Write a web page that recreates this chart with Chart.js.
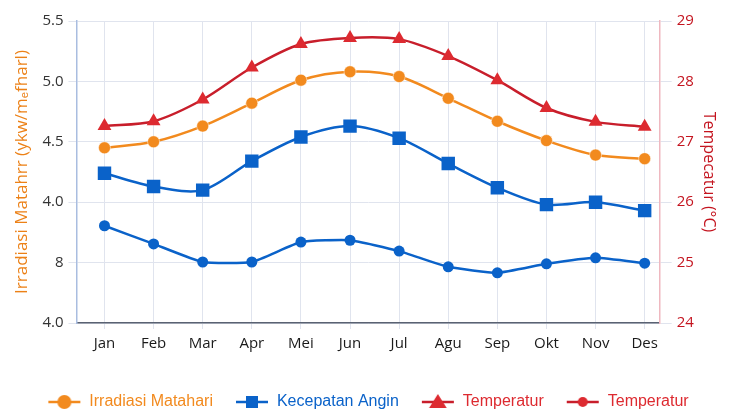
<!DOCTYPE html>
<html>
<head>
<meta charset="utf-8">
<script src="https://cdn.jsdelivr.net/npm/chart.js@4"></script>
<style>
  html, body { margin: 0; padding: 0; background: #fff; }
  #myChart { display: block; }
</style>
</head>
<body>
<canvas id="myChart" width="734" height="410"></canvas>
<script>
const months = ["Jan", "Feb", "Mar", "Apr", "Mei", "Jun", "Jul", "Agu", "Sep", "Okt", "Nov", "Des"];

// left axis (kWh/m2/hari)
const irradiasi = [4.45, 4.50, 4.63, 4.82, 5.01, 5.08, 5.04, 4.86, 4.67, 4.51, 4.39, 4.36];
const kecepatanAngin = [4.24, 4.13, 4.10, 4.34, 4.54, 4.63, 4.53, 4.32, 4.12, 3.98, 4.00, 3.93];

// right axis (°C)
const temperatur = [27.26, 27.34, 27.70, 28.23, 28.62, 28.72, 28.70, 28.42, 28.02, 27.56, 27.33, 27.25];
const temperatur2 = [25.61, 25.31, 25.01, 25.01, 25.34, 25.37, 25.19, 24.93, 24.83, 24.98, 25.08, 24.99];

// left tick labels as printed on the picture
const leftTickValues = [3.0, 3.5, 4.0, 4.5, 5.0, 5.5];
const leftTickLabels = ["4.0", "8", "4.0", "4.5", "5.0", "5.5"];

const ORANGE = "#f28a1e";
const BLUE = "#0a62c9";
const RED = "#dd2a30";
const REDLINE = "#c81e2b";

function legendGlyph(color, lineColor, style, r) {
  const c = document.createElement("canvas");
  c.width = 34;
  c.height = 18;
  const g = c.getContext("2d");
  g.strokeStyle = lineColor;
  g.lineWidth = 2.5;
  g.beginPath();
  g.moveTo(1, 9);
  g.lineTo(33, 9);
  g.stroke();
  g.fillStyle = color;
  g.beginPath();
  if (style === "circle") {
    g.arc(17, 9, r, 0, Math.PI * 2);
  } else if (style === "rect") {
    g.rect(17 - r, 9 - r, 2 * r, 2 * r);
  } else {
    g.moveTo(17, 9 - r);
    g.lineTo(17 + r * 1.1, 9 + r * 0.75);
    g.lineTo(17 - r * 1.1, 9 + r * 0.75);
    g.closePath();
  }
  g.fill();
  return c;
}

const glyphs = [
  legendGlyph(ORANGE, ORANGE, "circle", 7),
  legendGlyph(BLUE, BLUE, "rect", 6),
  legendGlyph(RED, REDLINE, "triangle", 8),
  legendGlyph(RED, REDLINE, "circle", 5),
];
const legendColors = [ORANGE, BLUE, RED, RED];

// push the legend row a bit lower without shrinking the plot
const legendShift = {
  id: "legendShift",
  afterLayout(chart) {
    if (chart.legend) {
      chart.legend.top += 13;
      chart.legend.bottom += 13;
    }
  },
};

const ctx = document.getElementById("myChart").getContext("2d");

new Chart(ctx, {
  type: "line",
  data: {
    labels: months,
    datasets: [
      {
        label: "Irradiasi Matahari",
        data: irradiasi,
        yAxisID: "y",
        borderColor: ORANGE,
        backgroundColor: ORANGE,
        borderWidth: 2.5,
        pointStyle: "circle",
        pointRadius: 6,
        pointBorderColor: "#fff",
        pointBorderWidth: 0.5,
        tension: 0.3,
      },
      {
        label: "Kecepatan Angin",
        data: kecepatanAngin,
        yAxisID: "y",
        borderColor: BLUE,
        backgroundColor: BLUE,
        borderWidth: 2.5,
        pointStyle: "rect",
        pointRadius: 9.5,
        pointBorderWidth: 0,
        tension: 0.3,
      },
      {
        label: "Temperatur",
        data: temperatur,
        yAxisID: "y1",
        borderColor: REDLINE,
        backgroundColor: RED,
        borderWidth: 2.5,
        pointStyle: "triangle",
        pointRadius: 8,
        pointBorderWidth: 0,
        tension: 0.3,
      },
      {
        label: "Temperatur",
        data: temperatur2,
        yAxisID: "y1",
        borderColor: BLUE,
        backgroundColor: BLUE,
        borderWidth: 2.5,
        pointStyle: "circle",
        pointRadius: 5.5,
        pointBorderWidth: 0,
        tension: 0.15,
      },
    ],
  },
  plugins: [legendShift],
  options: {
    responsive: false,
    animation: false,
    layout: { padding: { top: 21, right: 10, left: 12, bottom: 3 } },
    plugins: {
      tooltip: { enabled: false },
      legend: {
        position: "bottom",
        labels: {
          usePointStyle: true,
          pointStyleWidth: 34,
          padding: 22,
          font: { family: "'Liberation Sans', sans-serif", size: 16 },
          generateLabels: (chart) =>
            chart.data.datasets.map((ds, i) => ({
              text: ds.label,
              fontColor: legendColors[i],
              pointStyle: glyphs[i],
              fillStyle: legendColors[i],
              strokeStyle: legendColors[i],
              lineWidth: 0,
              hidden: false,
              datasetIndex: i,
            })),
        },
      },
    },
    scales: {
      x: {
        offset: true,
        // the months sit a little right of centre in the original
        afterBuildTicks: (axis) => {
          axis._startValue = -0.57;
          axis._valueRange = 11.875;
        },
        grid: { color: "#e0e4ee", lineWidth: 1, tickLength: 6 },
        border: { color: "#5a6272", width: 1.5 },
        ticks: {
          color: "#1a1a1a",
          padding: 6,
          font: { family: "'Open Sans', sans-serif", size: 15 },
        },
      },
      y: {
        position: "left",
        min: 3.0,
        max: 5.5,
        afterBuildTicks: (axis) => {
          axis.ticks = leftTickValues.map((v) => ({ value: v }));
        },
        grid: { color: "#e0e4ee", tickLength: 8 },
        border: { color: "#a9bde0", width: 1.5 },
        ticks: {
          color: "#333",
          padding: 5,
          font: { family: "'Open Sans', sans-serif", size: 15 },
          callback: (v) => {
            const i = leftTickValues.findIndex((t) => Math.abs(t - v) < 1e-6);
            return i >= 0 ? leftTickLabels[i] : "";
          },
        },
        title: {
          display: true,
          text: "Irradiasi Matahrr (ykw/mₑfharl)",
          color: "#ec8117",
          padding: { top: 0, bottom: 5 },
          font: { family: "'Open Sans', sans-serif", size: 17, weight: "500" },
        },
      },
      y1: {
        position: "right",
        min: 24,
        max: 29,
        ticks: {
          stepSize: 1,
          color: "#c4141f",
          padding: 5,
          font: { family: "'Open Sans', sans-serif", size: 15 },
        },
        grid: { drawOnChartArea: false, color: "#e0e4ee", tickLength: 12 },
        border: { color: "#efb8c0", width: 1.5 },
        title: {
          display: true,
          text: "Tempecatur (°C)",
          color: "#c4141f",
          padding: { top: 6, bottom: 0 },
          font: { family: "'Open Sans', sans-serif", size: 16, weight: "500" },
        },
      },
    },
  },
});
</script>
</body>
</html>
